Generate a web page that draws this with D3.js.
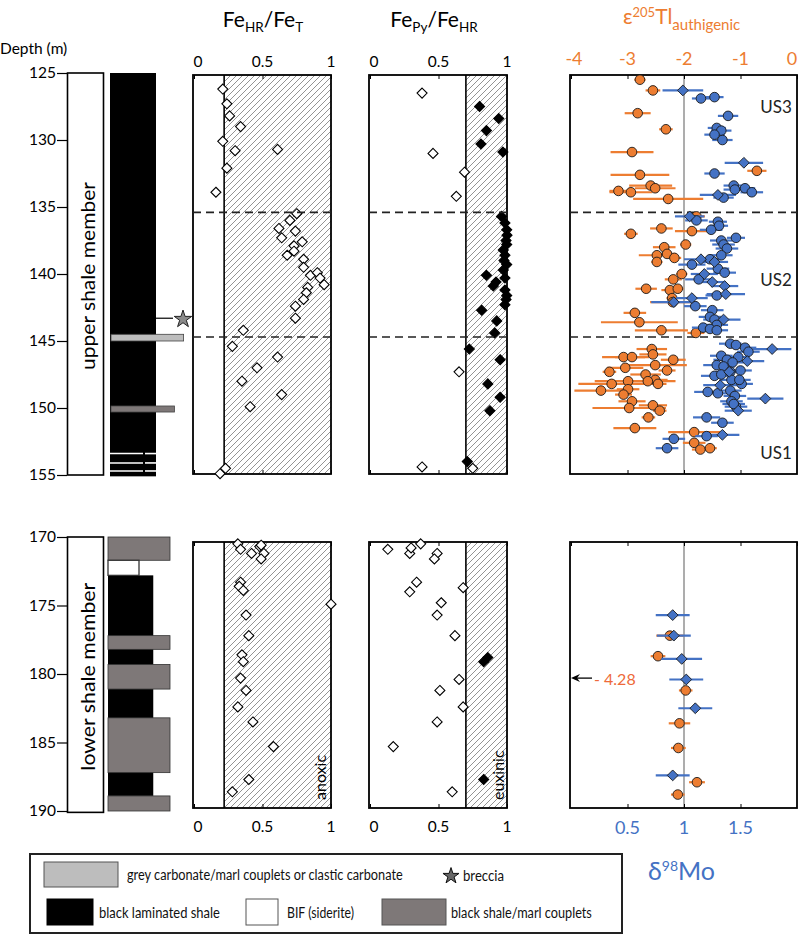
<!DOCTYPE html>
<html><head><meta charset="utf-8">
<script src="https://cdn.jsdelivr.net/npm/d3@7"></script>
<style>
html,body{margin:0;padding:0;background:#fff;}
svg{display:block;font-family:Lato,"Open Sans",sans-serif;}
</style></head>
<body><div id="chart"></div>
<script>
// ---------------- DATA ----------------
const depthTicksUpper = [125,130,135,140,145,150,155];
const depthTicksLower = [170,175,180,185,190];
const fracTicks = [0, 0.5, 1];
const tlTicks = [-4,-3,-2,-1,0];
const moTicks = [0.5, 1, 1.5];
const unitBoundaries = [135.4, 144.7];
const unitLabels = [["US3",127.5],["US2",140.4],["US1",153.3]];
const feHrThreshold = 0.22;
const fePyThreshold = 0.7;

// lithology: [top, bottom, type, relative width]
const lithUpper = [[125,155.1,"black",1],[144.5,145.0,"grey",1.6],[149.85,150.3,"dark",1.4]];
const lithUpperWhiteLines = [153.4,154.1,154.7];
const brecciaDepth = 143.3;
const lithLower = [[172.8,188.9,"black",0.73],[170.0,171.7,"dark",1],[171.7,172.8,"bif",0.5],
  [177.2,178.2,"dark",1],[179.3,181.1,"dark",1],[183.2,187.2,"dark",1],[188.9,190.0,"dark",1]];

// FeHR/FeT  [depth, value]
const feHrUpper = [[126.2,0.21],[127.3,0.24],[128.2,0.26],[129.0,0.34],[130.1,0.21],[130.8,0.30],[130.7,0.61],[132.1,0.24],[133.9,0.16],[135.5,0.75],[136.0,0.70],[136.6,0.62],[136.8,0.74],[137.3,0.64],[137.6,0.79],[137.9,0.73],[138.3,0.73],[138.6,0.68],[138.9,0.80],[139.5,0.80],[140.1,0.85],[139.9,0.90],[140.3,0.92],[140.8,0.95],[141.0,0.83],[141.4,0.82],[141.9,0.80],[142.4,0.74],[143.3,0.74],[144.2,0.36],[145.4,0.28],[146.2,0.61],[147.0,0.46],[148.0,0.35],[149.0,0.64],[149.9,0.41],[154.5,0.23],[154.9,0.19]];
const feHrLower = [[170.5,0.32],[170.9,0.34],[170.7,0.48],[170.6,0.49],[171.2,0.42],[171.2,0.51],[171.6,0.49],[173.3,0.34],[173.6,0.33],[173.9,0.36],[174.9,1.0],[175.7,0.38],[177.2,0.40],[178.6,0.35],[179.1,0.36],[180.3,0.34],[181.2,0.38],[182.4,0.32],[183.5,0.43],[185.3,0.58],[187.7,0.40],[188.6,0.28]];

// FePy/FeHR  [depth, value]
const fePyOpenUpper = [[126.5,0.38],[131.0,0.46],[132.4,0.69],[134.2,0.63],[147.3,0.65],[154.4,0.38],[154.5,0.75]];
const fePyFilledUpper = [[127.5,0.80],[128.4,0.94],[129.3,0.85],[130.3,0.81],[130.9,0.97],[135.7,0.96],[136.2,0.985],[136.7,0.998],[137.1,1.0],[137.5,0.993],[137.8,0.998],[138.2,0.973],[138.6,0.985],[139.0,0.978],[139.3,0.998],[139.7,0.973],[140.3,0.985],[141.2,0.985],[141.6,0.998],[141.9,0.993],[142.3,0.985],[140.1,0.85],[140.6,0.92],[140.9,0.90],[142.7,0.815],[143.5,0.925],[144.4,0.91],[145.6,0.725],[146.4,0.95],[148.2,0.86],[149.2,0.95],[150.2,0.875],[154.0,0.71]];
const fePyOpenLower = [[170.9,0.13],[171.2,0.29],[170.8,0.30],[170.5,0.37],[171.2,0.49],[171.6,0.47],[173.3,0.34],[174.0,0.29],[173.7,0.68],[174.8,0.52],[175.7,0.49],[177.2,0.62],[180.4,0.65],[181.2,0.51],[182.4,0.68],[183.5,0.49],[185.3,0.17],[188.6,0.60]];
const fePyFilledLower = [[179.1,0.83],[178.8,0.86],[187.7,0.83]];

// e205Tl authigenic [depth, value, err]
const tlUpper = [[125.5,-2.78,0.1],[126.3,-2.55,0.13],[128.0,-2.82,0.23],[129.2,-2.32,0.12],[130.9,-2.92,0.38],[132.3,-0.71,0.17],[132.6,-2.78,0.52],[133.4,-2.59,0.38],[133.6,-2.51,0.36],[133.8,-3.16,0.16],[133.9,-2.94,0.38],[134.4,-2.28,0.62],
 [135.7,-1.78,0.15],[136.6,-2.40,0.2],[136.8,-1.86,0.3],[137.0,-2.94,0.12],[137.8,-1.97,0.1],[138.0,-2.35,0.2],[138.6,-2.48,0.32],[138.5,-2.30,0.15],[138.8,-2.17,0.12],[139.1,-2.48,0.1],[140.0,-2.04,0.1],[140.4,-2.19,0.15],[141.1,-2.67,0.19],[141.2,-2.25,0.15],[141.1,-2.11,0.1],[141.8,-2.21,0.1],[142.1,-2.20,0.4],[142.9,-2.87,0.2],[143.6,-2.79,0.68],[144.2,-2.40,0.47],[144.4,-1.79,0.15],
 [145.6,-2.57,0.27],[146.0,-2.55,0.24],[146.2,-3.07,0.38],[146.2,-2.92,0.3],[146.4,-2.19,0.22],[146.8,-2.51,0.56],[147.0,-3.04,0.32],[147.2,-2.30,0.15],[147.3,-3.32,0.12],[147.5,-2.68,0.27],[147.9,-2.51,0.22],[148.0,-2.64,0.49],[148.0,-2.99,0.59],[148.2,-3.28,0.59],[148.2,-2.46,0.15],[148.6,-2.99,0.2],[148.7,-3.47,0.47],[149.0,-3.07,0.15],[149.5,-2.92,0.24],[149.8,-2.55,0.25],[150.0,-2.97,0.65],[150.2,-2.43,0.12],[150.7,-2.63,0.12],[151.5,-2.87,0.38],[151.8,-1.82,0.46],[152.6,-1.82,0.2],[153.1,-1.71,0.15],[153.0,-1.54,0.12]];
const tlLower = [[177.2,-2.25,0.24],[178.7,-2.46,0.13],[181.2,-1.97,0.12],[183.6,-2.08,0.19],[185.4,-2.10,0.13],[187.9,-1.77,0.14],[188.8,-2.11,0.12]];
const tlOffscaleLower = [180.3, -4.28];

// d98Mo [depth, value, err]
const moCircUpper = [[126.8,1.27,0.08],[126.9,1.15,0.08],[128.2,1.39,0.09],[129.1,1.29,0.08],[129.3,1.33,0.09],[129.6,1.27,0.09],[130.0,1.34,0.09],[132.5,1.27,0.09],[133.4,1.44,0.09],[133.7,1.45,0.1],[133.6,1.54,0.09],[133.9,1.60,0.1],[134.3,1.35,0.09],
 [136.0,1.11,0.1],[136.1,1.30,0.08],[136.4,1.31,0.08],[136.7,1.24,0.1],[137.3,1.46,0.08],[137.5,1.33,0.1],[137.8,1.35,0.1],[138.1,1.38,0.1],[138.6,1.33,0.1],[138.9,1.23,0.1],[139.3,1.07,0.12],[139.6,1.30,0.1],[139.9,1.36,0.1],[140.4,1.13,0.12],[141.6,1.29,0.1],[142.4,1.10,0.1],[142.7,1.25,0.1],[143.2,1.23,0.1],[143.4,1.27,0.1],[143.8,1.29,0.1],[144.0,1.17,0.1],[144.1,1.23,0.1],[144.2,1.29,0.1],
 [145.2,1.41,0.1],[145.3,1.46,0.1],[145.5,1.54,0.1],[145.8,1.57,0.1],[146.1,1.33,0.1],[146.2,1.48,0.1],[146.4,1.38,0.12],[146.8,1.29,0.12],[146.6,1.43,0.1],[146.9,1.35,0.1],[147.2,1.50,0.1],[147.6,1.27,0.12],[147.5,1.33,0.1],[147.3,1.41,0.1],[147.9,1.42,0.1],[148.2,1.51,0.1],[147.9,1.49,0.1],[148.8,1.21,0.12],[148.9,1.30,0.12],[148.7,1.41,0.1],[149.1,1.45,0.1],[149.5,1.42,0.1],[149.9,1.46,0.1],[149.7,1.44,0.1],[150.7,1.20,0.12],[151.1,1.34,0.1],[152.1,1.20,0.1],[152.3,0.91,0.1],[153.0,0.85,0.1]];
const moDiamUpper = [[126.3,0.99,0.18],[131.7,1.53,0.17],[134.1,1.30,0.16],[135.7,1.05,0.13],[138.9,1.15,0.15],[139.1,1.27,0.12],[140.0,1.18,0.12],[140.6,1.25,0.12],[140.9,1.36,0.12],[141.5,1.37,0.17],[141.8,1.07,0.14],[142.1,0.91,0.2],[143.4,1.35,0.15],
 [145.6,1.78,0.17],[146.5,1.56,0.15],[147.3,1.40,0.12],[148.3,1.32,0.15],[149.3,1.72,0.16],[150.2,1.48,0.12],[152.0,1.34,0.15]];
const moDiamLower = [[175.7,0.90,0.15],[177.2,0.91,0.15],[178.9,0.98,0.18],[180.4,1.02,0.15],[182.5,1.10,0.15],[187.4,0.90,0.15]];

const legendItems = [
  ["grey","grey carbonate/marl couplets or clastic carbonate"],
  ["star","breccia"],
  ["black","black laminated shale"],
  ["bif","BIF (siderite)"],
  ["dark","black shale/marl couplets"]];

// ---------------- STYLE ----------------
const ORANGE = "#ED7D31", BLUE = "#4472C4";
const lithFill = {black:"#000", grey:"#bdbdbd", dark:"#7e7878", bif:"#fff"};

const W = 800, H = 935;
const svg = d3.select("#chart").append("svg").attr("width",W).attr("height",H);
svg.append("rect").attr("width",W).attr("height",H).attr("fill","#fff");

const defs = svg.append("defs");
const pat = defs.append("pattern").attr("id","hatch").attr("patternUnits","userSpaceOnUse")
  .attr("width",6).attr("height",6);
pat.append("path").attr("d","M-1,1 l2,-2 M0,6 l6,-6 M5,7 l2,-2")
  .attr("stroke","#666").attr("stroke-width",0.7);

// scales
const yU = d3.scaleLinear().domain([125,155]).range([73,475]);
const yL = d3.scaleLinear().domain([170,190]).range([537,811]);
const xHR = d3.scaleLinear().domain([0,1]).range([194,331]);
const xPy = d3.scaleLinear().domain([0,1]).range([370,507]);
const xTl = d3.scaleLinear().domain([-4,0]).range([571,797]);
const xMo = d3.scaleLinear().domain([0,2]).range([571,797]);

const panU = {top:75, bottom:474};
const panL = {top:542, bottom:808};

const diamond = s => `M0,${-s}L${s},0L0,${s}L${-s},0Z`;

// text squeezed horizontally to a target width (like the condensed original font)
function fitText(parent, label, x, y, target, size, rotate){
  const g = parent.append("g");
  const t = g.append("text").attr("x",0).attr("y",0).attr("font-size",size).text(label);
  const len = t.node().getComputedTextLength() || target;
  const sx = target/len;
  if(rotate){
    t.attr("text-anchor","middle").attr("dominant-baseline","central");
    g.attr("transform",`translate(${x},${y}) rotate(-90) scale(${sx},1)`);
  } else {
    t.attr("dominant-baseline","central");
    g.attr("transform",`translate(${x},${y}) scale(${sx},1)`);
  }
  return t;
}

// ---------- depth axes ----------
svg.append("text").attr("x",0).attr("y",54).attr("font-size",15.5).text("Depth (m)");
function depthAxis(scale, ticks){
  const g = svg.append("g").attr("transform","translate(67,0)");
  g.call(d3.axisLeft(scale).tickValues(ticks).tickSize(10).tickPadding(1).tickFormat(d3.format("d")));
  g.select(".domain").remove();
  g.selectAll("line").attr("stroke","#000").attr("stroke-width",1.2);
  g.selectAll("text").attr("font-size",15.5).attr("font-family","Lato,'Open Sans',sans-serif").attr("fill","#000");
}
depthAxis(yU, depthTicksUpper);
depthAxis(yL, depthTicksLower);

// member boxes
function member(scale, d0, d1, label, len){
  svg.append("rect").attr("x",67.5).attr("y",scale(d0)).attr("width",36).attr("height",scale(d1)-scale(d0))
    .attr("fill","#fff").attr("stroke","#000").attr("stroke-width",1.6);
  const cy = (scale(d0)+scale(d1))/2 + 2;
  fitText(svg, label, 87, cy, len, 20, true);
}
member(yU,125,155,"upper shale member",188);
member(yL,170,190.1,"lower shale member",188);

// lithology
const lx0 = 110, lw = 46;
lithUpper.forEach(([t,b,type,w]) => {
  svg.append("rect").attr("x",type==="black"?lx0:lx0+1).attr("y",yU(t)).attr("width",lw*w - (type==="black"?0:1))
    .attr("height",yU(b)-yU(t)).attr("fill",lithFill[type])
    .attr("stroke",type==="black"?"none":"#444").attr("stroke-width",0.8);
});
lithUpperWhiteLines.forEach(d => {
  svg.append("line").attr("x1",lx0).attr("x2",lx0+33).attr("y1",yU(d)).attr("y2",yU(d)).attr("stroke","#fff").attr("stroke-width",1.6);
  svg.append("line").attr("x1",lx0+35).attr("x2",lx0+lw).attr("y1",yU(d)).attr("y2",yU(d)).attr("stroke","#fff").attr("stroke-width",1.6);
});
svg.append("line").attr("x1",lx0+lw).attr("x2",lx0+lw+17).attr("y1",yU(brecciaDepth)).attr("y2",yU(brecciaDepth)).attr("stroke","#000").attr("stroke-width",1.2);
svg.append("path").attr("d",d3.symbol(d3.symbolStar).size(95)()).attr("transform",`translate(183,${yU(brecciaDepth)+1})`)
  .attr("fill","#8a8a8a").attr("stroke","#222").attr("stroke-width",1);

const lxL = 108, lwL = 62;
lithLower.forEach(([t,b,type,w]) => {
  svg.append("rect").attr("x",lxL).attr("y",yL(t)).attr("width",lwL*w).attr("height",yL(b)-yL(t))
    .attr("fill",lithFill[type]).attr("stroke",type==="black"?"none":"#333").attr("stroke-width",type==="bif"?1.3:0.8);
});

// ---------- Fe panels ----------
function fePanel(x, pan, thr, axisTop){
  const x0 = x.range()[0]-1, x1 = x.range()[1];
  svg.append("rect").attr("x",x(thr)).attr("y",pan.top).attr("width",x1-x(thr)).attr("height",pan.bottom-pan.top)
    .attr("fill","url(#hatch)");
  svg.append("line").attr("x1",x(thr)).attr("x2",x(thr)).attr("y1",pan.top).attr("y2",pan.bottom).attr("stroke","#000").attr("stroke-width",1.6);
  svg.append("rect").attr("x",x0).attr("y",pan.top).attr("width",x1-x0).attr("height",pan.bottom-pan.top)
    .attr("fill","none").attr("stroke","#000").attr("stroke-width",1.8);
  const gT = svg.append("g").attr("transform",`translate(0,${pan.top})`)
    .call(d3.axisBottom(x).tickValues(fracTicks).tickSize(4).tickFormat(""));
  gT.select(".domain").remove();
  const gB = svg.append("g").attr("transform",`translate(0,${pan.bottom})`)
    .call(d3.axisTop(x).tickValues(fracTicks).tickSize(4).tickFormat(""));
  gB.select(".domain").remove();
  const ly = axisTop ? 67 : 832;
  svg.append("g").selectAll("text").data(fracTicks).join("text")
    .attr("x",d=>x(d)+(d===0?4:0)).attr("y",ly).attr("text-anchor","middle").attr("font-size",15.5)
    .text(d=>d===0.5?"0.5":d3.format("d")(d));
}
fePanel(xHR, panU, feHrThreshold, true);
fePanel(xPy, panU, fePyThreshold, true);
fePanel(xHR, panL, feHrThreshold, false);
fePanel(xPy, panL, fePyThreshold, false);

function diamonds(data, x, y, filled, s){
  svg.append("g").selectAll("path").data(data).join("path")
    .attr("d",diamond(s)).attr("transform",d=>`translate(${x(d[1])},${y(d[0])})`)
    .attr("fill",filled?"#000":"#fff").attr("stroke","#000").attr("stroke-width",1.1);
}
diamonds(feHrUpper, xHR, yU, false, 5);
diamonds(feHrLower, xHR, yL, false, 5);
diamonds(fePyOpenUpper, xPy, yU, false, 5);
diamonds(fePyFilledUpper, xPy, yU, true, 5);
diamonds(fePyOpenLower, xPy, yL, false, 5);
diamonds(fePyFilledLower, xPy, yL, true, 5);

// titles
function feTitle(cx, a, b){
  const t = svg.append("text").attr("x",cx).attr("y",27).attr("text-anchor","middle").attr("font-size",21);
  t.append("tspan").text("Fe");
  t.append("tspan").attr("font-size",13.5).attr("dy",5).text(a);
  t.append("tspan").attr("dy",-5).text("/Fe");
  t.append("tspan").attr("font-size",13.5).attr("dy",5).text(b);
}
feTitle(263,"HR","T");
feTitle(434,"Py","HR");

svg.append("text").attr("transform",`translate(${xHR(1)-5},${panL.bottom-8}) rotate(-90)`).attr("font-size",16).text("anoxic");
svg.append("text").attr("transform",`translate(${xPy(1)-3},${panL.bottom-8}) rotate(-90)`).attr("font-size",16).text("euxinic");

// dashed unit boundaries
[xHR, xPy].forEach(x => {
  unitBoundaries.forEach(d => {
    svg.append("line").attr("x1",x.range()[0]-1).attr("x2",x.range()[1]).attr("y1",yU(d)).attr("y2",yU(d))
      .attr("stroke","#222").attr("stroke-width",1.6).attr("stroke-dasharray","8,5");
  });
});

// ---------- Tl / Mo panel ----------
function isoPanel(pan){
  svg.append("line").attr("x1",xMo(1)).attr("x2",xMo(1)).attr("y1",pan.top).attr("y2",pan.bottom)
    .attr("stroke","#999").attr("stroke-width",1.6);
  svg.append("rect").attr("x",570).attr("y",pan.top).attr("width",227).attr("height",pan.bottom-pan.top)
    .attr("fill","none").attr("stroke","#000").attr("stroke-width",1.8);
  const gT = svg.append("g").attr("transform",`translate(0,${pan.top})`)
    .call(d3.axisBottom(xTl).tickValues(tlTicks).tickSize(4).tickFormat(""));
  gT.select(".domain").remove();
  const gB = svg.append("g").attr("transform",`translate(0,${pan.bottom})`)
    .call(d3.axisTop(xMo).tickValues(moTicks).tickSize(4).tickFormat(""));
  gB.select(".domain").remove();
}
isoPanel(panU);
isoPanel(panL);

unitBoundaries.forEach(d => {
  svg.append("line").attr("x1",570).attr("x2",797).attr("y1",yU(d)).attr("y2",yU(d))
    .attr("stroke","#222").attr("stroke-width",1.6).attr("stroke-dasharray","8,5");
});

// top Tl axis labels
svg.append("g").selectAll("text").data(tlTicks).join("text")
  .attr("x",d=>xTl(d)+(d===0?-5:(d===-4?3:0))).attr("y",65).attr("text-anchor","middle")
  .attr("font-size",18).attr("fill",ORANGE).text(d=>d3.format("d")(d).replace("−","-"));
// Tl title
const tt = svg.append("text").attr("x",623).attr("y",24).attr("font-size",21).attr("fill",ORANGE);
tt.append("tspan").text("ε");
tt.append("tspan").attr("font-size",13).attr("dy",-7).text("205");
tt.append("tspan").attr("dy",7).text("Tl");
tt.append("tspan").attr("font-size",15).attr("dy",6).text("authigenic");

// bottom Mo axis labels
svg.append("g").selectAll("text").data(moTicks).join("text")
  .attr("x",d=>xMo(d)).attr("y",834).attr("text-anchor","middle")
  .attr("font-size",18).attr("fill",BLUE).text(d=>String(d));
const mt = svg.append("text").attr("x",648).attr("y",880).attr("font-size",25).attr("fill",BLUE);
mt.append("tspan").text("δ");
mt.append("tspan").attr("font-size",14).attr("dy",-9).text("98");
mt.append("tspan").attr("dy",9).text("Mo");

// unit labels
unitLabels.forEach(([t,d]) => {
  svg.append("text").attr("x",776).attr("y",yU(d)).attr("text-anchor","middle").attr("dominant-baseline","central")
    .attr("font-size",17).attr("fill","#222").text(t);
});

function errBars(data, x, y, color){
  svg.append("g").selectAll("line").data(data).join("line")
    .attr("x1",d=>x(d[1]-d[2])).attr("x2",d=>x(d[1]+d[2])).attr("y1",d=>y(d[0])).attr("y2",d=>y(d[0]))
    .attr("stroke",color).attr("stroke-width",2.2);
}
function circles(data, x, y, color){
  svg.append("g").selectAll("circle").data(data).join("circle")
    .attr("cx",d=>x(d[1])).attr("cy",d=>y(d[0])).attr("r",4.8)
    .attr("fill",color).attr("stroke","#1a1a1a").attr("stroke-width",0.9);
}
function isoDiamonds(data, x, y, color){
  svg.append("g").selectAll("path").data(data).join("path")
    .attr("d",diamond(5.4)).attr("transform",d=>`translate(${x(d[1])},${y(d[0])})`)
    .attr("fill",color).attr("stroke","#1a1a1a").attr("stroke-width",0.9);
}
errBars(tlUpper, xTl, yU, ORANGE);
circles(tlUpper, xTl, yU, ORANGE);
errBars(moCircUpper, xMo, yU, BLUE);
errBars(moDiamUpper, xMo, yU, BLUE);
circles(moCircUpper, xMo, yU, BLUE);
isoDiamonds(moDiamUpper, xMo, yU, BLUE);

errBars(tlLower, xTl, yL, ORANGE);
circles(tlLower, xTl, yL, ORANGE);
errBars(moDiamLower, xMo, yL, BLUE);
isoDiamonds(moDiamLower, xMo, yL, BLUE);

// off-scale annotation
const ay = yL(tlOffscaleLower[0]);
svg.append("line").attr("x1",592).attr("x2",575).attr("y1",ay).attr("y2",ay).attr("stroke","#000").attr("stroke-width",1.3);
svg.append("path").attr("d",`M571,${ay}L580,${ay-4}L577,${ay}L580,${ay+4}Z`).attr("fill","#000");
svg.append("text").attr("x",594).attr("y",ay).attr("dominant-baseline","central").attr("font-size",16)
  .attr("fill","#EE6A3A").text("- " + String(-tlOffscaleLower[1]));

// ---------- legend ----------
const lg = svg.append("g");
lg.append("rect").attr("x",30).attr("y",854).attr("width",592).attr("height",79).attr("fill","#fff")
  .attr("stroke","#222").attr("stroke-width",2);
const legendLayout = {
  grey:{sx:44,sy:862,sw:74,sh:25,tx:127,tl:276},
  star:{sx:451,sy:875,tx:463,tl:41},
  black:{sx:47,sy:899,sw:46,sh:26,tx:99,tl:121},
  bif:{sx:246,sy:899,sw:32,sh:26,tx:287,tl:67},
  dark:{sx:382,sy:899,sw:64,sh:26,tx:451,tl:141}
};
legendItems.forEach(([k,label]) => {
  const L = legendLayout[k];
  let cy;
  if(k==="star"){
    lg.append("path").attr("d",d3.symbol(d3.symbolStar).size(80)()).attr("transform",`translate(${L.sx},${L.sy+1})`)
      .attr("fill","#666").attr("stroke","#111").attr("stroke-width",1);
    cy = L.sy;
  } else {
    lg.append("rect").attr("x",L.sx).attr("y",L.sy).attr("width",L.sw).attr("height",L.sh)
      .attr("fill",lithFill[k]).attr("stroke",k==="black"?"#000":"#555").attr("stroke-width",1);
    cy = L.sy + L.sh/2;
  }
  fitText(lg, label, L.tx, cy, L.tl, 15, false).attr("fill","#111");
});
</script>
</body></html>
